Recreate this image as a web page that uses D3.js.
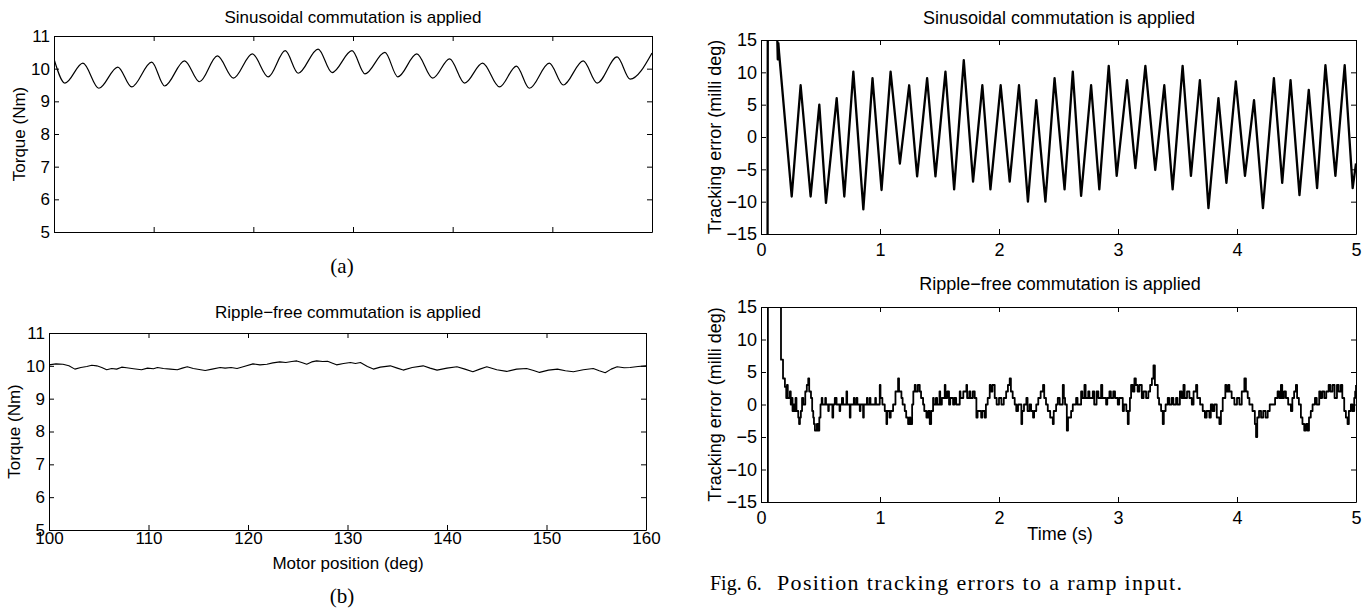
<!DOCTYPE html>
<html>
<head>
<meta charset="utf-8">
<script src="https://cdn.jsdelivr.net/npm/d3@7"></script>
<style>
  body { margin: 0; background: #fff; }
  svg { display: block; }
</style>
</head>
<body>
<script>
// (a) torque with sinusoidal commutation
let sinPos = [100, 101.1, 102.9, 104.5, 106.4, 107.8, 109.8, 111.1, 113.1, 114.6, 116.4, 118.0, 119.9, 121.5, 123.2, 124.5, 126.5, 127.9, 129.9, 131.2, 133.2, 134.5, 136.4, 138.0, 139.7, 141.2, 143.0, 144.7, 146.4, 147.7, 149.7, 151.1, 153.1, 154.5, 156.5, 157.8, 160];
let sinTorque = [10.3, 9.56, 10.17, 9.4, 10.05, 9.44, 10.2, 9.47, 10.24, 9.6, 10.39, 9.71, 10.45, 9.75, 10.55, 9.86, 10.6, 9.88, 10.55, 9.84, 10.5, 9.75, 10.45, 9.71, 10.3, 9.56, 10.17, 9.44, 10.08, 9.4, 10.17, 9.5, 10.24, 9.56, 10.36, 9.68, 10.48];

// (b) torque with ripple-free commutation
let rfPos = [100.0, 100.7, 101.4, 102.0, 102.6, 103.2, 103.8, 104.3, 104.8, 105.3,
  105.8, 106.3, 106.8, 107.3, 107.8, 108.5, 109.3, 109.9, 110.5, 110.9,
  111.5, 112.2, 112.9, 113.4, 113.9, 114.5, 115.1, 115.7, 116.4, 117.2,
  117.7, 118.3, 118.9, 119.6, 120.5, 121.2, 121.9, 122.5, 123.2, 123.8,
  124.4, 124.9, 125.4, 125.9, 126.4, 126.9, 127.5, 128.0, 128.5, 128.9,
  129.6, 130.3, 130.8, 131.3, 132.0, 132.6, 133.3, 134.3, 135.0, 135.6,
  136.5, 137.6, 138.3, 139.0, 140.0, 141.0, 141.8, 142.6, 143.3, 144.0,
  145.0, 146.0, 147.0, 148.0, 148.7, 149.3, 150.2, 151.1, 151.9, 152.7,
  153.7, 154.7, 155.3, 155.9, 156.5, 157.1, 157.8, 158.4, 159.2, 160.0];
let rfTorque = [10.03, 10.06, 10.05, 10.0, 9.9, 9.95, 9.98, 10.02, 10.0, 9.95,
  9.88, 9.92, 9.9, 9.96, 9.94, 9.91, 9.88, 9.93, 9.91, 9.95,
  9.92, 9.9, 9.88, 9.93, 9.97, 9.92, 9.89, 9.86, 9.9, 9.95,
  9.93, 9.95, 9.92, 9.98, 10.06, 10.03, 10.05, 10.09, 10.12, 10.1,
  10.13, 10.15, 10.1, 10.05, 10.12, 10.15, 10.13, 10.14, 10.08, 10.03,
  10.07, 10.1, 10.07, 10.1, 9.98, 9.9, 9.96, 10.0, 9.93, 9.87,
  9.95, 10.0, 9.93, 9.87, 9.93, 9.97, 9.9, 9.82, 9.9, 9.97,
  9.88, 9.83, 9.9, 9.92, 9.86, 9.8, 9.87, 9.9, 9.85, 9.82,
  9.88, 9.92, 9.85, 9.79, 9.9, 9.97, 9.94, 9.95, 9.98, 10.0];

// tracking error, sinusoidal commutation (time s, milli deg)
let sinTime = [0.054, 0.058, 0.128, 0.137, 0.141, 0.146, 0.152,
  0.258, 0.333, 0.417, 0.49, 0.546, 0.636, 0.7, 0.776, 0.86, 0.937,
  1.013, 1.089, 1.167, 1.245, 1.312, 1.396, 1.466, 1.55, 1.623, 1.704,
  1.782, 1.86, 1.928, 2.014, 2.09, 2.168, 2.243, 2.313, 2.39, 2.467,
  2.551, 2.62, 2.69, 2.774, 2.843, 2.922, 2.989, 3.076, 3.146, 3.23,
  3.313, 3.389, 3.459, 3.543, 3.613, 3.688, 3.76, 3.844, 3.911, 3.99,
  4.067, 4.143, 4.218, 4.31, 4.38, 4.45, 4.525, 4.603, 4.673, 4.743,
  4.827, 4.905, 4.972, 5.0];
let sinErr = [-40, 40, 22, 15, 12, 14.5, 13,
  -9.2, 8.0, -9.2, 5, -10.2, 6, -9.2, 10.1, -11.2, 9.1,
  -8.2, 10.1, -4.1, 8.0, -6.1, 9.1, -6.1, 10.1, -8.1, 11.9,
  -6.9, 8.0, -8.1, 8.0, -6.9, 8.0, -10.0, 5.7, -10.0, 9.1,
  -8.1, 10.1, -9.1, 8.0, -8.1, 11.0, -6.0, 8.8, -4.8, 11.0,
  -5.1, 8.0, -8.1, 11.0, -6.0, 8.8, -11.0, 6.0, -7.1, 8.6,
  -6.0, 5.7, -11.0, 9.1, -7.1, 8.8, -9.0, 7.3, -7.9, 11.1,
  -6.0, 11.1, -7.9, -4.1];

// tracking error, ripple-free commutation (quantised, drawn as steps)
let rfTime = [0.054, 0.058, 0.14, 0.151, 0.168, 0.185, 0.201, 0.212, 0.218, 0.225,
  0.243, 0.25, 0.258, 0.265, 0.271, 0.28, 0.29, 0.298, 0.313, 0.32,
  0.327, 0.335, 0.345, 0.355, 0.372, 0.385, 0.397, 0.405, 0.42, 0.43,
  0.439, 0.445, 0.453, 0.47, 0.481, 0.49, 0.5, 0.51, 0.516, 0.54,
  0.546, 0.565, 0.57, 0.578, 0.6, 0.607, 0.62, 0.635, 0.66, 0.666,
  0.68, 0.69, 0.718, 0.724, 0.746, 0.752, 0.78, 0.786, 0.802, 0.81,
  0.83, 0.836, 0.858, 0.864, 0.89, 0.896, 0.914, 0.92, 0.96, 0.966,
  0.998, 1.004, 1.02, 1.04, 1.054, 1.06, 1.08, 1.09, 1.11, 1.13,
  1.152, 1.16, 1.18, 1.19, 1.208, 1.22, 1.236, 1.25, 1.255, 1.27,
  1.28, 1.292, 1.3, 1.318, 1.334, 1.345, 1.362, 1.372, 1.39, 1.405,
  1.418, 1.43, 1.446, 1.452, 1.47, 1.48, 1.5, 1.506, 1.52, 1.544,
  1.55, 1.565, 1.58, 1.59, 1.614, 1.625, 1.64, 1.67, 1.676, 1.7,
  1.726, 1.732, 1.75, 1.76, 1.78, 1.796, 1.81, 1.82, 1.85, 1.86,
  1.88, 1.89, 1.905, 1.922, 1.93, 1.945, 1.964, 1.98, 2.0, 2.02,
  2.04, 2.06, 2.075, 2.09, 2.1, 2.115, 2.132, 2.145, 2.16, 2.188,
  2.195, 2.21, 2.23, 2.24, 2.257, 2.27, 2.286, 2.295, 2.313, 2.33,
  2.35, 2.37, 2.38, 2.395, 2.41, 2.43, 2.452, 2.46, 2.48, 2.494,
  2.51, 2.536, 2.545, 2.555, 2.57, 2.58, 2.606, 2.62, 2.648, 2.66,
  2.69, 2.7, 2.718, 2.728, 2.75, 2.76, 2.788, 2.8, 2.82, 2.835,
  2.858, 2.868, 2.9, 2.91, 2.928, 2.94, 2.96, 2.975, 2.998, 3.01,
  3.04, 3.05, 3.07, 3.082, 3.09, 3.1, 3.11, 3.125, 3.138, 3.15,
  3.165, 3.18, 3.2, 3.215, 3.236, 3.255, 3.27, 3.285, 3.298, 3.31,
  3.334, 3.345, 3.362, 3.376, 3.385, 3.4, 3.418, 3.43, 3.45, 3.465,
  3.488, 3.5, 3.52, 3.535, 3.55, 3.56, 3.58, 3.6, 3.62, 3.635,
  3.656, 3.666, 3.69, 3.712, 3.73, 3.745, 3.768, 3.78, 3.795, 3.81,
  3.83, 3.852, 3.865, 3.88, 3.902, 3.91, 3.925, 3.936, 3.955, 3.978,
  4.0, 4.02, 4.04, 4.062, 4.075, 4.09, 4.104, 4.13, 4.15, 4.16,
  4.17, 4.185, 4.202, 4.22, 4.24, 4.258, 4.275, 4.3, 4.32, 4.341,
  4.355, 4.369, 4.38, 4.395, 4.411, 4.43, 4.453, 4.465, 4.48, 4.495,
  4.505, 4.52, 4.537, 4.55, 4.565, 4.58, 4.593, 4.605, 4.62, 4.635,
  4.655, 4.67, 4.691, 4.7, 4.715, 4.733, 4.75, 4.77, 4.785, 4.803,
  4.82, 4.84, 4.855, 4.873, 4.885, 4.901, 4.915, 4.929, 4.94, 4.957,
  4.97, 4.985, 4.993, 5.0];
let rfErr = [-40, 40, 22, 15, 6.9, 4, 2.7, 1, 3, 1,
  2, 0, 1, -1, 0, -1, 1, -1, -2, -3,
  -2, -1, 1, 0, 2, 3, 4, 2, 1, -1,
  -2, -3, -4, -3, -4, -2, 0, 1, 0, 1,
  0, -1, 0, 0, -2, 0, 1, 0, -1, 0,
  1, 0, 2, 0, -2, 0, 1, 0, 1, 0,
  -1, 0, -2, 0, 1, 0, 1, 0, 1, 0,
  3, 1, 0, -1, -3, -1, -2, -1, 0, 2,
  4, 2, 1, 0, -1, -2, -3, -2, -3, 0,
  2, 3, 2, 3, 2, 1, 0, -1, -2, -1,
  -3, -1, 1, 0, 1, 0, 2, 0, 1, 3,
  1, 2, 0, 1, 0, 1, 0, 2, 1, 2,
  3, 1, 2, 1, 2, 1, -2, -1, -2, -1,
  -2, 0, 1, 3, 2, 3, 1, 0, 1, 0,
  1, 2, 3, 4, 2, 1, 0, -1, 0, -3,
  -1, 0, 1, -1, 0, -1, -2, -1, 0, 1,
  2, 3, 1, 0, -1, -2, -3, -1, 0, 1,
  0, 3, 1, 0, -4, -2, -1, 0, 1, 0,
  2, 1, 3, 1, 2, 1, 2, 0, 2, 1,
  3, 1, 0, 1, 2, 1, 2, 1, 0, 1,
  -1, 0, -1, -3, -1, 1, 3, 2, 4, 3,
  2, 3, 1, 2, 1, 2, 3, 4, 6, 3,
  1, 0, -1, -3, -1, 0, 1, 0, 1, 0,
  1, 0, 2, 1, 3, 1, 2, 1, 0, 2,
  3, 1, 0, -1, -2, -1, -2, 0, -1, 0,
  -2, -3, -1, 1, 3, 2, 3, 2, 1, 0,
  1, 0, 2, 4, 2, 1, 0, -1, -3, -5,
  -2, -1, -2, -1, -2, -1, 0, 0, 1, 2,
  1, 3, 1, 2, 1, 0, -1, 1, 2, 3,
  1, 0, -2, -3, -4, -3, -4, -2, -1, 0,
  1, 0, 2, 1, 2, 1, 2, 3, 2, 3,
  1, 3, 2, 3, 1, -1, -2, -3, -1, 0,
  -1, 1, 2, 3];

let posTicks = [100, 110, 120, 130, 140, 150, 160];
let torqueTicks = [5, 6, 7, 8, 9, 10, 11];
let timeTicks = [0, 1, 2, 3, 4, 5];
let errTicks = [-15, -10, -5, 0, 5, 10, 15];

let w = 1371;
let h = 612;
let sans = "'Liberation Sans', Arial, Helvetica, sans-serif";
let serif = "'Liberation Serif', 'Times New Roman', serif";
let fmt = d3.format("d");

let svg = d3.select("body")
  .append("svg")
  .attr("width", w)
  .attr("height", h);

function drawPanel(p) {
  let xScale = d3.scaleLinear().domain(p.xDomain).range([p.left, p.right]);
  let yScale = d3.scaleLinear().domain(p.yDomain).range([p.bottom, p.top]);
  let g = svg.append("g");

  g.append("clipPath")
    .attr("id", p.id)
    .append("rect")
    .attr("x", p.left)
    .attr("y", p.top)
    .attr("width", p.right - p.left)
    .attr("height", p.bottom - p.top);

  let line = d3.line()
    .x(i => xScale(p.xs[i]))
    .y(i => yScale(p.ys[i]))
    .curve(p.curve);

  g.append("path")
    .datum(d3.range(p.xs.length))
    .attr("clip-path", "url(#" + p.id + ")")
    .attr("d", line)
    .attr("fill", "none")
    .attr("stroke", "#000")
    .attr("stroke-width", p.lineWidth)
    .attr("stroke-linejoin", "round");

  let bottomAxis = d3.axisBottom(xScale).tickValues(p.xTicks)
    .tickSizeInner(-5).tickSizeOuter(0).tickPadding(p.xPad)
    .tickFormat(p.xLabels ? fmt : "");
  let leftAxis = d3.axisLeft(yScale).tickValues(p.yTicks)
    .tickSizeInner(-5).tickSizeOuter(0).tickPadding(4).tickFormat(fmt);
  let topAxis = d3.axisTop(xScale).tickValues(p.xTicks)
    .tickSizeInner(-5).tickSizeOuter(0).tickFormat("");
  let rightAxis = d3.axisRight(yScale).tickValues(p.yTicks)
    .tickSizeInner(-5).tickSizeOuter(0).tickFormat("");

  let axes = [
    g.append("g").attr("transform", "translate(0," + p.bottom + ")").call(bottomAxis),
    g.append("g").attr("transform", "translate(" + p.left + ",0)").call(leftAxis),
    g.append("g").attr("transform", "translate(0," + p.top + ")").call(topAxis),
    g.append("g").attr("transform", "translate(" + p.right + ",0)").call(rightAxis)
  ];
  axes.forEach(a => {
    a.attr("font-family", sans).attr("font-size", p.tickFont);
    a.selectAll("path, line").attr("stroke", "#000").attr("stroke-width", 1);
    a.selectAll("text").attr("fill", "#000");
  });

  g.append("text")
    .attr("x", p.titleX)
    .attr("y", p.titleY)
    .attr("text-anchor", "middle")
    .style("font-family", sans)
    .style("font-size", p.titleFont + "px")
    .text(p.title);

  g.append("text")
    .attr("transform", "translate(" + p.yLabelX + "," + (p.top + p.bottom) / 2 + ") rotate(-90)")
    .attr("text-anchor", "middle")
    .style("font-family", sans)
    .style("font-size", p.labelFont + "px")
    .text(p.yLabel);

  if (p.xLabel) {
    g.append("text")
      .attr("x", p.xLabelX)
      .attr("y", p.xLabelY)
      .attr("text-anchor", "middle")
      .style("font-family", sans)
      .style("font-size", p.labelFont + "px")
      .text(p.xLabel);
  }
}

drawPanel({
  id: "clipA", left: 54, right: 652, top: 36, bottom: 232,
  xDomain: [100, 160], yDomain: [5, 11], xTicks: posTicks, yTicks: torqueTicks,
  xs: sinPos, ys: sinTorque, curve: d3.curveMonotoneX, lineWidth: 1.2,
  xLabels: false, xPad: 2, tickFont: 17,
  title: "Sinusoidal commutation is applied", titleX: 353, titleY: 23, titleFont: 17,
  yLabel: "Torque (Nm)", yLabelX: 25, labelFont: 17
});

drawPanel({
  id: "clipB", left: 49, right: 646, top: 333, bottom: 530,
  xDomain: [100, 160], yDomain: [5, 11], xTicks: posTicks, yTicks: torqueTicks,
  xs: rfPos, ys: rfTorque, curve: d3.curveLinear, lineWidth: 1.1,
  xLabels: true, xPad: 2, tickFont: 17,
  title: "Ripple\u2212free commutation is applied", titleX: 348, titleY: 318, titleFont: 17,
  yLabel: "Torque (Nm)", yLabelX: 20, labelFont: 17,
  xLabel: "Motor position (deg)", xLabelX: 348, xLabelY: 569
});

drawPanel({
  id: "clipC", left: 761, right: 1356, top: 40, bottom: 234,
  xDomain: [0, 5], yDomain: [-15, 15], xTicks: timeTicks, yTicks: errTicks,
  xs: sinTime, ys: sinErr, curve: d3.curveLinear, lineWidth: 2.3,
  xLabels: true, xPad: 9, tickFont: 18,
  title: "Sinusoidal commutation is applied", titleX: 1059, titleY: 24, titleFont: 18,
  yLabel: "Tracking error (milli deg)", yLabelX: 721, labelFont: 18
});

drawPanel({
  id: "clipD", left: 761, right: 1356, top: 307, bottom: 502,
  xDomain: [0, 5], yDomain: [-15, 15], xTicks: timeTicks, yTicks: errTicks,
  xs: rfTime, ys: rfErr, curve: d3.curveStepAfter, lineWidth: 1.8,
  xLabels: true, xPad: 9, tickFont: 18,
  title: "Ripple\u2212free commutation is applied", titleX: 1060, titleY: 290, titleFont: 18,
  yLabel: "Tracking error (milli deg)", yLabelX: 721, labelFont: 18,
  xLabel: "Time (s)", xLabelX: 1060, xLabelY: 540
});

// captions
svg.append("text")
  .attr("x", 342).attr("y", 273)
  .attr("text-anchor", "middle")
  .style("font-family", serif).style("font-size", "21px")
  .text("(a)");
svg.append("text")
  .attr("x", 342).attr("y", 603)
  .attr("text-anchor", "middle")
  .style("font-family", serif).style("font-size", "21px")
  .text("(b)");
svg.append("text")
  .attr("x", 710).attr("y", 590)
  .style("font-family", serif).style("font-size", "20px")
  .text("Fig. 6.");
svg.append("text")
  .attr("x", 777).attr("y", 590)
  .style("font-family", serif).style("font-size", "22px")
  .attr("textLength", 405).attr("lengthAdjust", "spacing")
  .text("Position tracking errors to a ramp input.");
</script>
</body>
</html>
